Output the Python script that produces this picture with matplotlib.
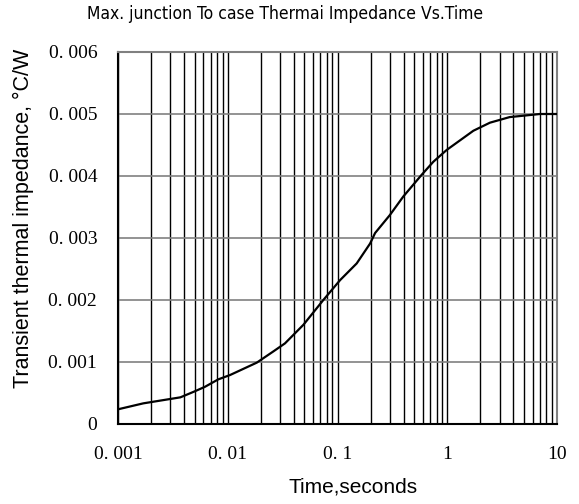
import matplotlib
matplotlib.use("Agg")
import matplotlib.pyplot as plt
from matplotlib.ticker import FixedLocator, LogLocator, NullFormatter

# Data
time_s = [0.001, 0.0017, 0.0024, 0.0037, 0.0049, 0.0062, 0.0082, 0.0105,
          0.0184, 0.026, 0.0332, 0.0489, 0.0743, 0.1055, 0.1496, 0.198,
          0.22, 0.30, 0.398, 0.585, 0.747, 0.988, 1.73, 2.45, 3.7, 7.0, 10.0]
impedance = [0.000237, 0.000333, 0.000376, 0.00043, 0.00052, 0.0006, 0.00072,
             0.00079, 0.00099, 0.00117, 0.0013, 0.0016, 0.0020, 0.00232,
             0.00259, 0.00291, 0.00308, 0.00337, 0.00367, 0.00402, 0.00423,
             0.00442, 0.00473, 0.00486, 0.00495, 0.00500, 0.00500]
x_ticks = [0.001, 0.01, 0.1, 1, 10]
x_ticklabels = ["0. 001", "0. 01", "0. 1", "1", "10"]
y_ticks = [0, 0.001, 0.002, 0.003, 0.004, 0.005, 0.006]
y_ticklabels = ["0", "0. 001", "0. 002", "0. 003", "0. 004", "0. 005", "0. 006"]

fig = plt.figure(figsize=(5.79, 5.04), dpi=100)
ax = fig.add_axes([118/579, 80/504, (557-118)/579, (424-52)/504])

ax.set_xscale("log")
ax.set_xlim(0.001, 10)
ax.set_ylim(0, 0.006)

# grid
ax.xaxis.set_major_locator(FixedLocator(x_ticks))
ax.xaxis.set_minor_locator(LogLocator(base=10, subs=range(2, 10)))
ax.xaxis.set_minor_formatter(NullFormatter())
ax.grid(True, axis="x", which="both", color="black", lw=1.0)
ax.yaxis.set_major_locator(FixedLocator(y_ticks))
ax.grid(True, axis="y", which="major", color="#808080", lw=1.2)

ax.plot(time_s, impedance, color="black", lw=1.6, zorder=3)

serif = ["Liberation Serif", "DejaVu Serif"]
ax.set_xticklabels(x_ticklabels, fontfamily=serif, fontsize=14)
ax.set_yticklabels(y_ticklabels, fontfamily=serif, fontsize=14)
ax.tick_params(axis="x", which="both", length=0, pad=16)
ax.tick_params(axis="y", which="both", length=0, pad=15)

for s in ["left", "bottom"]:
    ax.spines[s].set_color("black")
    ax.spines[s].set_linewidth(1.5)
for s in ["top", "right"]:
    ax.spines[s].set_color("#808080")
    ax.spines[s].set_linewidth(1.5)

sans = ["Liberation Sans", "DejaVu Sans"]
ax.set_xlabel("Time,seconds", fontfamily=sans, fontsize=15)
ax.xaxis.set_label_coords(0.535, -0.169)
ax.xaxis.label.set_va("center")
ax.set_ylabel("Transient thermal impedance, \u00b0C/W", fontfamily=sans,
              fontsize=15.5)
ax.yaxis.set_label_coords(-0.216, 0.554)
ax.yaxis.label.set_va("center")

fig.text(285/579, 1 - 14/504, "Max. junction To case Thermai Impedance Vs.Time",
         ha="center", va="center", fontsize=12.5, fontstretch="condensed",
         fontfamily=["DejaVu Sans"])

fig.savefig("out.png", dpi=100)
